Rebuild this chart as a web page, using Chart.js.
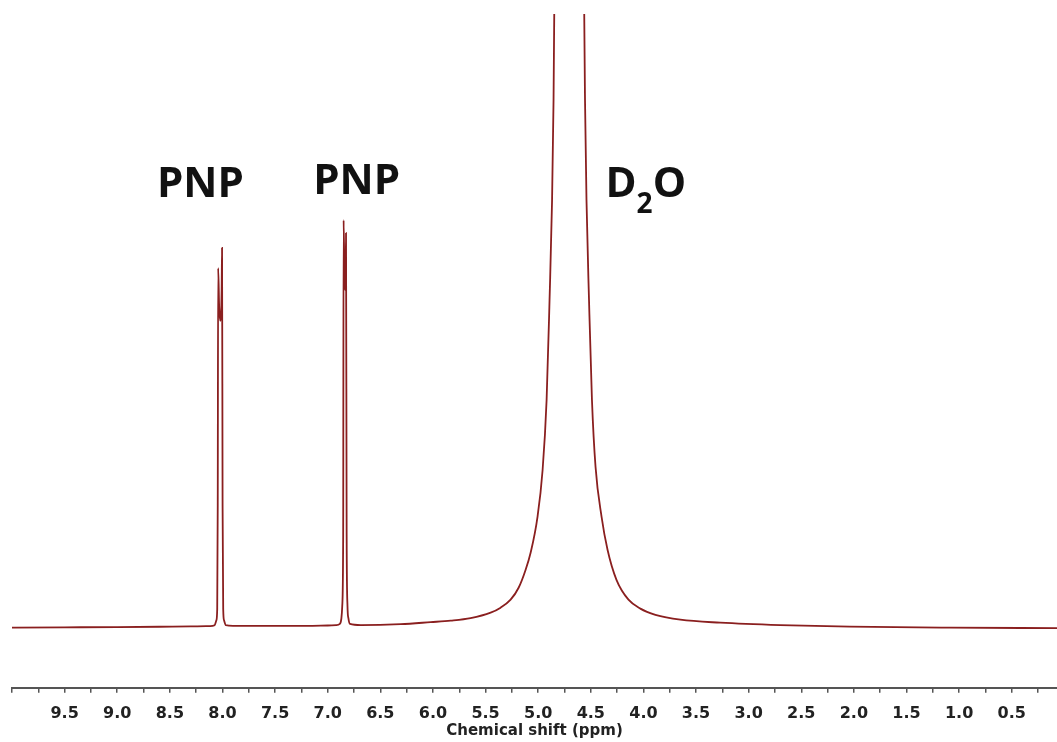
<!DOCTYPE html>
<html>
<head>
<meta charset="utf-8">
<script src="https://cdn.jsdelivr.net/npm/chart.js@4.4.1/dist/chart.umd.min.js"></script>
<style>
  html, body { margin: 0; padding: 0; background: #fff; }
  #wrap { width: 1057px; height: 742px; position: relative; }
</style>
</head>
<body>
<div id="wrap"><canvas id="nmr"></canvas></div>
<script>
// chemical shift (ppm) and signal intensity
const ppm = [
  10.0, 9.5, 9.0, 8.6, 8.3, 8.12,
  8.075, 8.058, 8.05, 8.045, 8.041, 8.031, 8.021, 8.008, 8.004, 7.999, 7.993, 7.985, 7.968,
  7.9, 7.5, 7.2, 7.0, 6.92,
  6.885, 6.87, 6.862, 6.853, 6.849, 6.84, 6.832, 6.826, 6.82, 6.812, 6.803, 6.788,
  6.685, 6.306, 6.021, 5.831, 5.642, 5.452, 5.357, 5.262, 5.186, 5.12, 5.072, 5.006,
  4.958, 4.92, 4.892, 4.868, 4.854, 4.845, 4.835, 4.8, 4.7, 4.6, 4.575, 4.565,
  4.555, 4.541, 4.517, 4.489, 4.455, 4.398, 4.341, 4.256, 4.142, 4.029, 3.886,
  3.649, 3.27, 2.7, 2.04, 1.09, 0.07
];
const intensity = [
  0, 0.05, 0.1, 0.15, 0.2, 0.25,
  0.4, 1.2, 3.0, 20, 58.6, 52, 50, 55, 61.9, 20, 3.0, 1.2, 0.4,
  0.3, 0.3, 0.3, 0.35, 0.4,
  0.6, 1.5, 3.5, 15, 66.4, 56, 55, 64.3, 15, 3.5, 1.5, 0.6,
  0.41, 0.57, 0.9, 1.14, 1.55, 2.44, 3.26, 4.56, 6.5, 9.4, 12.2, 18.1,
  25.7, 37.1, 53.4, 69.7, 86, 105, 140, 400, 1000, 400, 140, 105,
  86, 69.7, 53.4, 37.1, 26.2, 18.1, 12.7, 7.8, 4.56, 3.1, 2.1,
  1.3, 0.81, 0.41, 0.16, 0, -0.08
];

// axis ticks
const majorTicks = [9.5, 9.0, 8.5, 8.0, 7.5, 7.0, 6.5, 6.0, 5.5, 5.0, 4.5, 4.0, 3.5, 3.0, 2.5, 2.0, 1.5, 1.0, 0.5];
const tickLabels = ["9.5", "9.0", "8.5", "8.0", "7.5", "7.0", "6.5", "6.0", "5.5", "5.0", "4.5", "4.0", "3.5", "3.0", "2.5", "2.0", "1.5", "1.0", "0.5"];
const minorTicks = [10.0, 9.75, 9.25, 8.75, 8.25, 7.75, 7.25, 6.75, 6.25, 5.75, 5.25, 4.75, 4.25, 3.75, 3.25, 2.75, 2.25, 1.75, 1.25, 0.75, 0.25];

// peak labels, anchored in data coordinates
const peakNames = ["PNP", "PNP", "D2O"];
const peakPpm = [8.21, 6.725, 4.36];
const peakLevel = [70.2, 70.6, 70.2];

const points = ppm.map((p, i) => ({ x: p, y: intensity[i] }));
const allTicks = minorTicks.concat(majorTicks).sort((a, b) => b - a);

const peakLabels = {
  id: "peakLabels",
  afterDatasetsDraw(chart) {
    const { ctx, scales } = chart;
    ctx.save();
    ctx.fillStyle = "#111";
    ctx.textBaseline = "alphabetic";
    peakNames.forEach((name, i) => {
      const px = scales.x.getPixelForValue(peakPpm[i]);
      const py = scales.y.getPixelForValue(peakLevel[i]);
      ctx.font = 'bold 42px "Open Sans"';
      if (name === "D2O") {
        // D with subscript 2, then O
        ctx.textAlign = "left";
        ctx.fillText("D", px, py);
        let cx = px + ctx.measureText("D").width;
        ctx.font = 'bold 28px "Open Sans"';
        ctx.fillText("2", cx, py + 16);
        cx += ctx.measureText("2").width;
        ctx.font = 'bold 42px "Open Sans"';
        ctx.fillText("O", cx, py);
      } else {
        ctx.textAlign = "center";
        ctx.fillText(name, px, py);
      }
    });
    ctx.restore();
  }
};

new Chart(document.getElementById("nmr"), {
  type: "line",
  data: {
    datasets: [{
      data: points,
      borderColor: "#8a1f1f",
      borderWidth: 1.8,
      pointRadius: 0,
      fill: false,
      cubicInterpolationMode: "monotone"
    }]
  },
  options: {
    responsive: true,
    maintainAspectRatio: false,
    animation: false,
    layout: { padding: { top: 14, left: 12, right: 0, bottom: 0 } },
    plugins: { legend: { display: false }, tooltip: { enabled: false } },
    scales: {
      x: {
        type: "linear",
        reverse: true,
        min: 0.07,
        max: 10.0,
        afterBuildTicks: (scale) => { scale.ticks = allTicks.map(v => ({ value: v })); },
        border: { display: true, color: "#555", width: 2 },
        grid: { display: true, drawOnChartArea: false, drawTicks: true, tickLength: 5, color: "#555", lineWidth: 1.5 },
        ticks: {
          autoSkip: false,
          maxRotation: 0,
          padding: 11,
          color: "#222",
          font: { family: "DejaVu Sans", weight: "bold", size: 16 },
          callback: (v) => {
            const k = majorTicks.findIndex(m => Math.abs(m - v) < 1e-6);
            return k >= 0 ? tickLabels[k] : "";
          }
        },
        title: {
          display: true,
          text: "Chemical shift (ppm)",
          color: "#222",
          font: { family: "DejaVu Sans", weight: "bold", size: 15 },
          padding: { top: -12, bottom: 2 }
        }
      },
      y: {
        display: false,
        min: -9.8,
        max: 100
      }
    }
  },
  plugins: [peakLabels]
});
</script>
</body>
</html>
